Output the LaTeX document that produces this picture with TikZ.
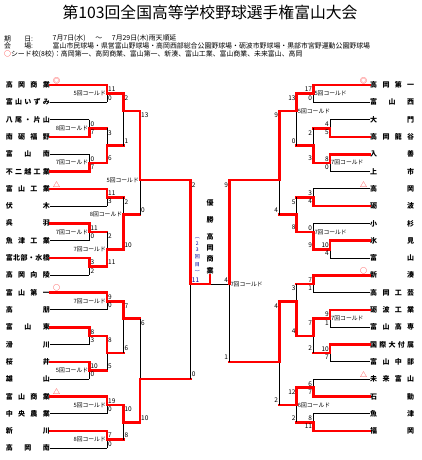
\documentclass[tikz,border=0pt]{standalone}
\usepackage{fontspec}
\setmainfont{Noto Sans CJK JP}

\tikzset{
  win/.style={red, line width=2.6pt, line cap=rect},
  lose/.style={black, line width=0.9pt},
  team/.style={inner sep=0pt, font=\fontsize{7}{8}\selectfont\bfseries},
  score/.style={inner sep=1pt, font=\fontsize{6.5}{7}\selectfont},
  cold/.style={inner sep=1pt, font=\fontsize{5.8}{6}\selectfont},
  seed/.style={inner sep=0pt, text=red, font=\fontsize{7}{7}\selectfont},
  info/.style={anchor=west, inner sep=0pt, font=\fontsize{6.9}{7}\selectfont},
  champ/.style={inner sep=0pt, font=\fontsize{7}{7}\selectfont\bfseries},
}

% spread the characters of a name over a fixed width
\def\spreadchars#1#2{#1\ifx#2\relax\else\hfill\expandafter\spreadchars\fi#2}
\newcommand\tname[1]{\makebox[44pt][s]{\expandafter\spreadchars#1\relax}}

% one game: x, top row, out row, bottom row, top score, bottom score, winner (t/b), score side, next x
\newcount\gamecount
\newcommand\game[9]{%
  \global\advance\gamecount by 1
  \if t#7
    \draw[lose] (#1,#3) -- (#1,#4);
    \draw[win] (#1,#2) -- (#1,#3);
  \else
    \draw[lose] (#1,#2) -- (#1,#3);
    \draw[win] (#1,#3) -- (#1,#4);
  \fi
  \draw[win] (#1,#3) -- (#9,#3);
  \node[score,anchor=north #8,yshift=-1pt] (g\the\gamecount t) at (#1,#2) {#5};
  \node[score,anchor=south #8,yshift=1pt] (g\the\gamecount b) at (#1,#4) {#6};
}

\begin{document}
\begin{tikzpicture}[x=1pt,y=-1pt]
\path[use as bounding box,fill=white] (0,0) rectangle (422,460);

% header
\node[font=\fontsize{15.8}{16}\selectfont] (title) at (210,12) {第103回全国高等学校野球選手権富山大会};
\node[info] (k1) at (4,38.5) {\makebox[27pt][s]{期\hfill 日}:};
\node[info] (v1) at (52.5,38.5) {7月7日(水)\hspace{1.4em}～\hspace{1.4em}7月29日(木)雨天順延};
\node[info] (k2) at (4,46) {\makebox[27pt][s]{会\hfill 場}:};
\node[info] (v2) at (52.5,46) {富山市民球場・県営富山野球場・高岡西部総合公園野球場・砺波市野球場・黒部市宮野運動公園野球場};
\node[info] (k3) at (4,54) {\textcolor{red}{○}シード校(8校)：高岡第一、高岡商業、富山第一、新湊、富山工業、富山商業、未来富山、高岡};

% winner in the middle
\foreach \letter/\yy [count=\i] in {優/203,勝/220,高/236.7,岡/248.3,商/259.3,業/270.7}
  \node[champ] (w\i) at (210,\yy) {\letter};
\foreach \letter/\yy [count=\i] in {︵/238,2/243.5,3/250,回/257,目/265,︶/272}
  \node[champ,font=\fontsize{5}{5}\selectfont,text=blue!60!black] (n\i) at (197.3,\yy) {\letter};

\begin{scope}[shift={(0,85)},y=-8.65pt]
% left teams
\foreach \nm/\jx/\st [count=\i] in {高岡商業/107/win, 富山いずみ/107/lose, 八尾・片山/89.3/lose, 南砺福野/89.3/win,
  富山南/89.3/lose, 不二越工業/89.3/win, 富山工業/107/win, 伏木/107/lose, 呉羽/89.3/win, 魚津工業/89.3/lose,
  富北部・水橋/89.3/win, 高岡向陵/89.3/lose, 富山第一/107/win, 高朋/107/lose, 富山東/89.3/win, 滑川/89.3/lose,
  桜井/89.3/win, 雄山/89.3/lose, 富山商業/107/win, 中央農業/107/lose, 新川/107/win, 高岡南/107/lose} {
  \node[team,anchor=east] (L\i) at (50,{2*(\i-1)}) {\tname{\nm}};
  \draw[\st] (L\i.east) -- (\jx,{2*(\i-1)});
}
% right teams
\foreach \nm/\jx/\st [count=\i] in {高岡第一/313.3/win, 富山西/313.3/lose, 大門/330/lose, 高岡龍谷/330/win,
  入善/330/win, 上市/330/lose, 高岡/313.3/lose, 砺波/313.3/win, 小杉/313.3/lose, 氷見/330/win, 富山/330/lose,
  新湊/313.3/win, 高岡工芸/313.3/lose, 砺波工業/330/win, 富山高専/330/lose, 国際大付属/330/win, 富山中部/330/lose,
  未来富山/313.3/lose, 石動/313.3/win, 魚津/313.3/lose, 福岡/313.3/win} {
  \node[team,anchor=west] (R\i) at (370,{2*(\i-1)}) {\tname{\nm}};
  \draw[\st] (R\i.west) -- (\jx,{2*(\i-1)});
}

% seeds
\node[seed] (s1) at ([xshift=6.5pt,yshift=4.5pt]L1.east) {◎};
\node[seed] (s2) at ([xshift=-6.5pt,yshift=4.5pt]R1.west) {◎};
\node[seed] (s3) at ([xshift=6.5pt,yshift=4.5pt]L13.east) {○};
\node[seed] (s4) at ([xshift=-6.5pt,yshift=4.5pt]R12.west) {○};
\node[seed] (s5) at ([xshift=6.5pt,yshift=4.5pt]L7.east) {△};
\node[seed] (s6) at ([xshift=6.5pt,yshift=4.5pt]L19.east) {△};
\node[seed] (s7) at ([xshift=-6.5pt,yshift=4.5pt]R7.west) {△};
\node[seed] (s8) at ([xshift=-6.5pt,yshift=4.5pt]R18.west) {△};

% left half
\game{107}{0}{1}{2}{11}{0}{t}{west}{123.3}
\game{89.3}{4}{5}{6}{0}{7}{b}{west}{107}
\game{89.3}{8}{9}{10}{0}{7}{b}{west}{107}
\game{107}{5}{7}{9}{3}{6}{b}{west}{123.3}
\game{123.3}{1}{3}{7}{2}{1}{t}{west}{140}
\game{107}{12}{13}{14}{11}{3}{t}{west}{123.3}
\game{89.3}{16}{17}{18}{11}{0}{t}{west}{107}
\game{89.3}{20}{21}{22}{3}{2}{t}{west}{107}
\game{107}{17}{19}{21}{2}{11}{b}{west}{123.3}
\game{123.3}{13}{15}{19}{2}{10}{b}{west}{140}
\game{140}{3}{11}{15}{13}{0}{t}{west}{190.7}
\game{107}{24}{25}{26}{9}{0}{t}{west}{123.3}
\game{89.3}{28}{29}{30}{8}{3}{t}{west}{107}
\game{89.3}{32}{33}{34}{10}{0}{t}{west}{107}
\game{107}{29}{31}{33}{8}{5}{t}{west}{123.3}
\game{123.3}{25}{27}{31}{7}{6}{t}{west}{140}
\game{107}{36}{37}{38}{19}{0}{t}{west}{123.3}
\game{107}{40}{41}{42}{7}{0}{t}{west}{123.3}
\game{123.3}{37}{39}{41}{10}{8}{t}{west}{140}
\game{140}{27}{34}{39}{6}{10}{b}{west}{190.7}
\game{190.7}{11}{23}{34}{2}{0}{t}{west}{210}

% right half
\game{313.3}{0}{1}{2}{17}{0}{t}{east}{296.7}
\game{330}{4}{5}{6}{4}{5}{b}{east}{313.3}
\game{330}{8}{9}{10}{8}{0}{t}{east}{313.3}
\game{313.3}{5}{7}{9}{2}{3}{b}{east}{296.7}
\game{296.7}{1}{3}{7}{13}{0}{t}{east}{279.3}
\game{313.3}{12}{13}{14}{3}{4}{b}{east}{296.7}
\game{330}{18}{19}{20}{10}{4}{t}{east}{313.3}
\game{313.3}{16}{17}{19}{0}{9}{b}{east}{296.7}
\game{296.7}{13}{15}{17}{5}{8}{b}{east}{279.3}
\game{279.3}{3}{11}{15}{9}{4}{t}{east}{229.3}
\game{313.3}{22}{23}{24}{7}{1}{t}{east}{296.7}
\game{330}{26}{27}{28}{9}{1}{t}{east}{313.3}
\game{330}{30}{31}{32}{10}{7}{t}{east}{313.3}
\game{313.3}{27}{29}{31}{7}{2}{t}{east}{296.7}
\game{296.7}{23}{25}{29}{3}{4}{b}{east}{279.3}
\game{313.3}{34}{35}{36}{6}{7}{b}{east}{296.7}
\game{313.3}{38}{39}{40}{8}{11}{b}{east}{296.7}
\game{296.7}{35}{37}{39}{12}{2}{t}{east}{279.3}
\game{279.3}{25}{32}{37}{4}{2}{t}{east}{229.3}
\draw[lose] (229.3,23) -- (210,23);
\game{229.3}{11}{23}{32}{9}{1}{t}{east}{229.3}

% final
\draw[win] (210,23) -- (210,22);
\node[score,anchor=south west,text=blue!60!black] (f1) at (190.7,23) {11};
\node[score,anchor=south east] (f2) at (229.3,23) {4};

% called games
\node[cold,anchor=east] (c1) at (107,1) {5回コールド};
\node[cold,anchor=east] (c2) at (89.3,5) {8回コールド};
\node[cold,anchor=east] (c3) at (89.3,9) {7回コールド};
\node[cold,anchor=east] (c4) at (140,11) {5回コールド};
\node[cold,anchor=east] (c5) at (123.3,15) {8回コールド};
\node[cold,anchor=east] (c6) at (89.3,17) {7回コールド};
\node[cold,anchor=east] (c7) at (107,19) {7回コールド};
\node[cold,anchor=east] (c8) at (107,25) {7回コールド};
\node[cold,anchor=east] (c9) at (89.3,33) {5回コールド};
\node[cold,anchor=east] (c10) at (107,37) {5回コールド};
\node[cold,anchor=east] (c11) at (107,41) {8回コールド};
\node[cold,anchor=west] (c12) at (313.3,1) {5回コールド};
\node[cold,anchor=west] (c13) at (296.7,3) {5回コールド};
\node[cold,anchor=west] (c14) at (330,9) {7回コールド};
\node[cold,anchor=west] (c15) at (313.3,17) {7回コールド};
\node[cold,anchor=west] (c16) at (330,27) {7回コールド};
\node[cold,anchor=west] (c17) at (296.7,37) {6回コールド};
\node[cold,anchor=west] (c18) at (229.3,23) {7回コールド};
\end{scope}
\end{tikzpicture}
\end{document}
